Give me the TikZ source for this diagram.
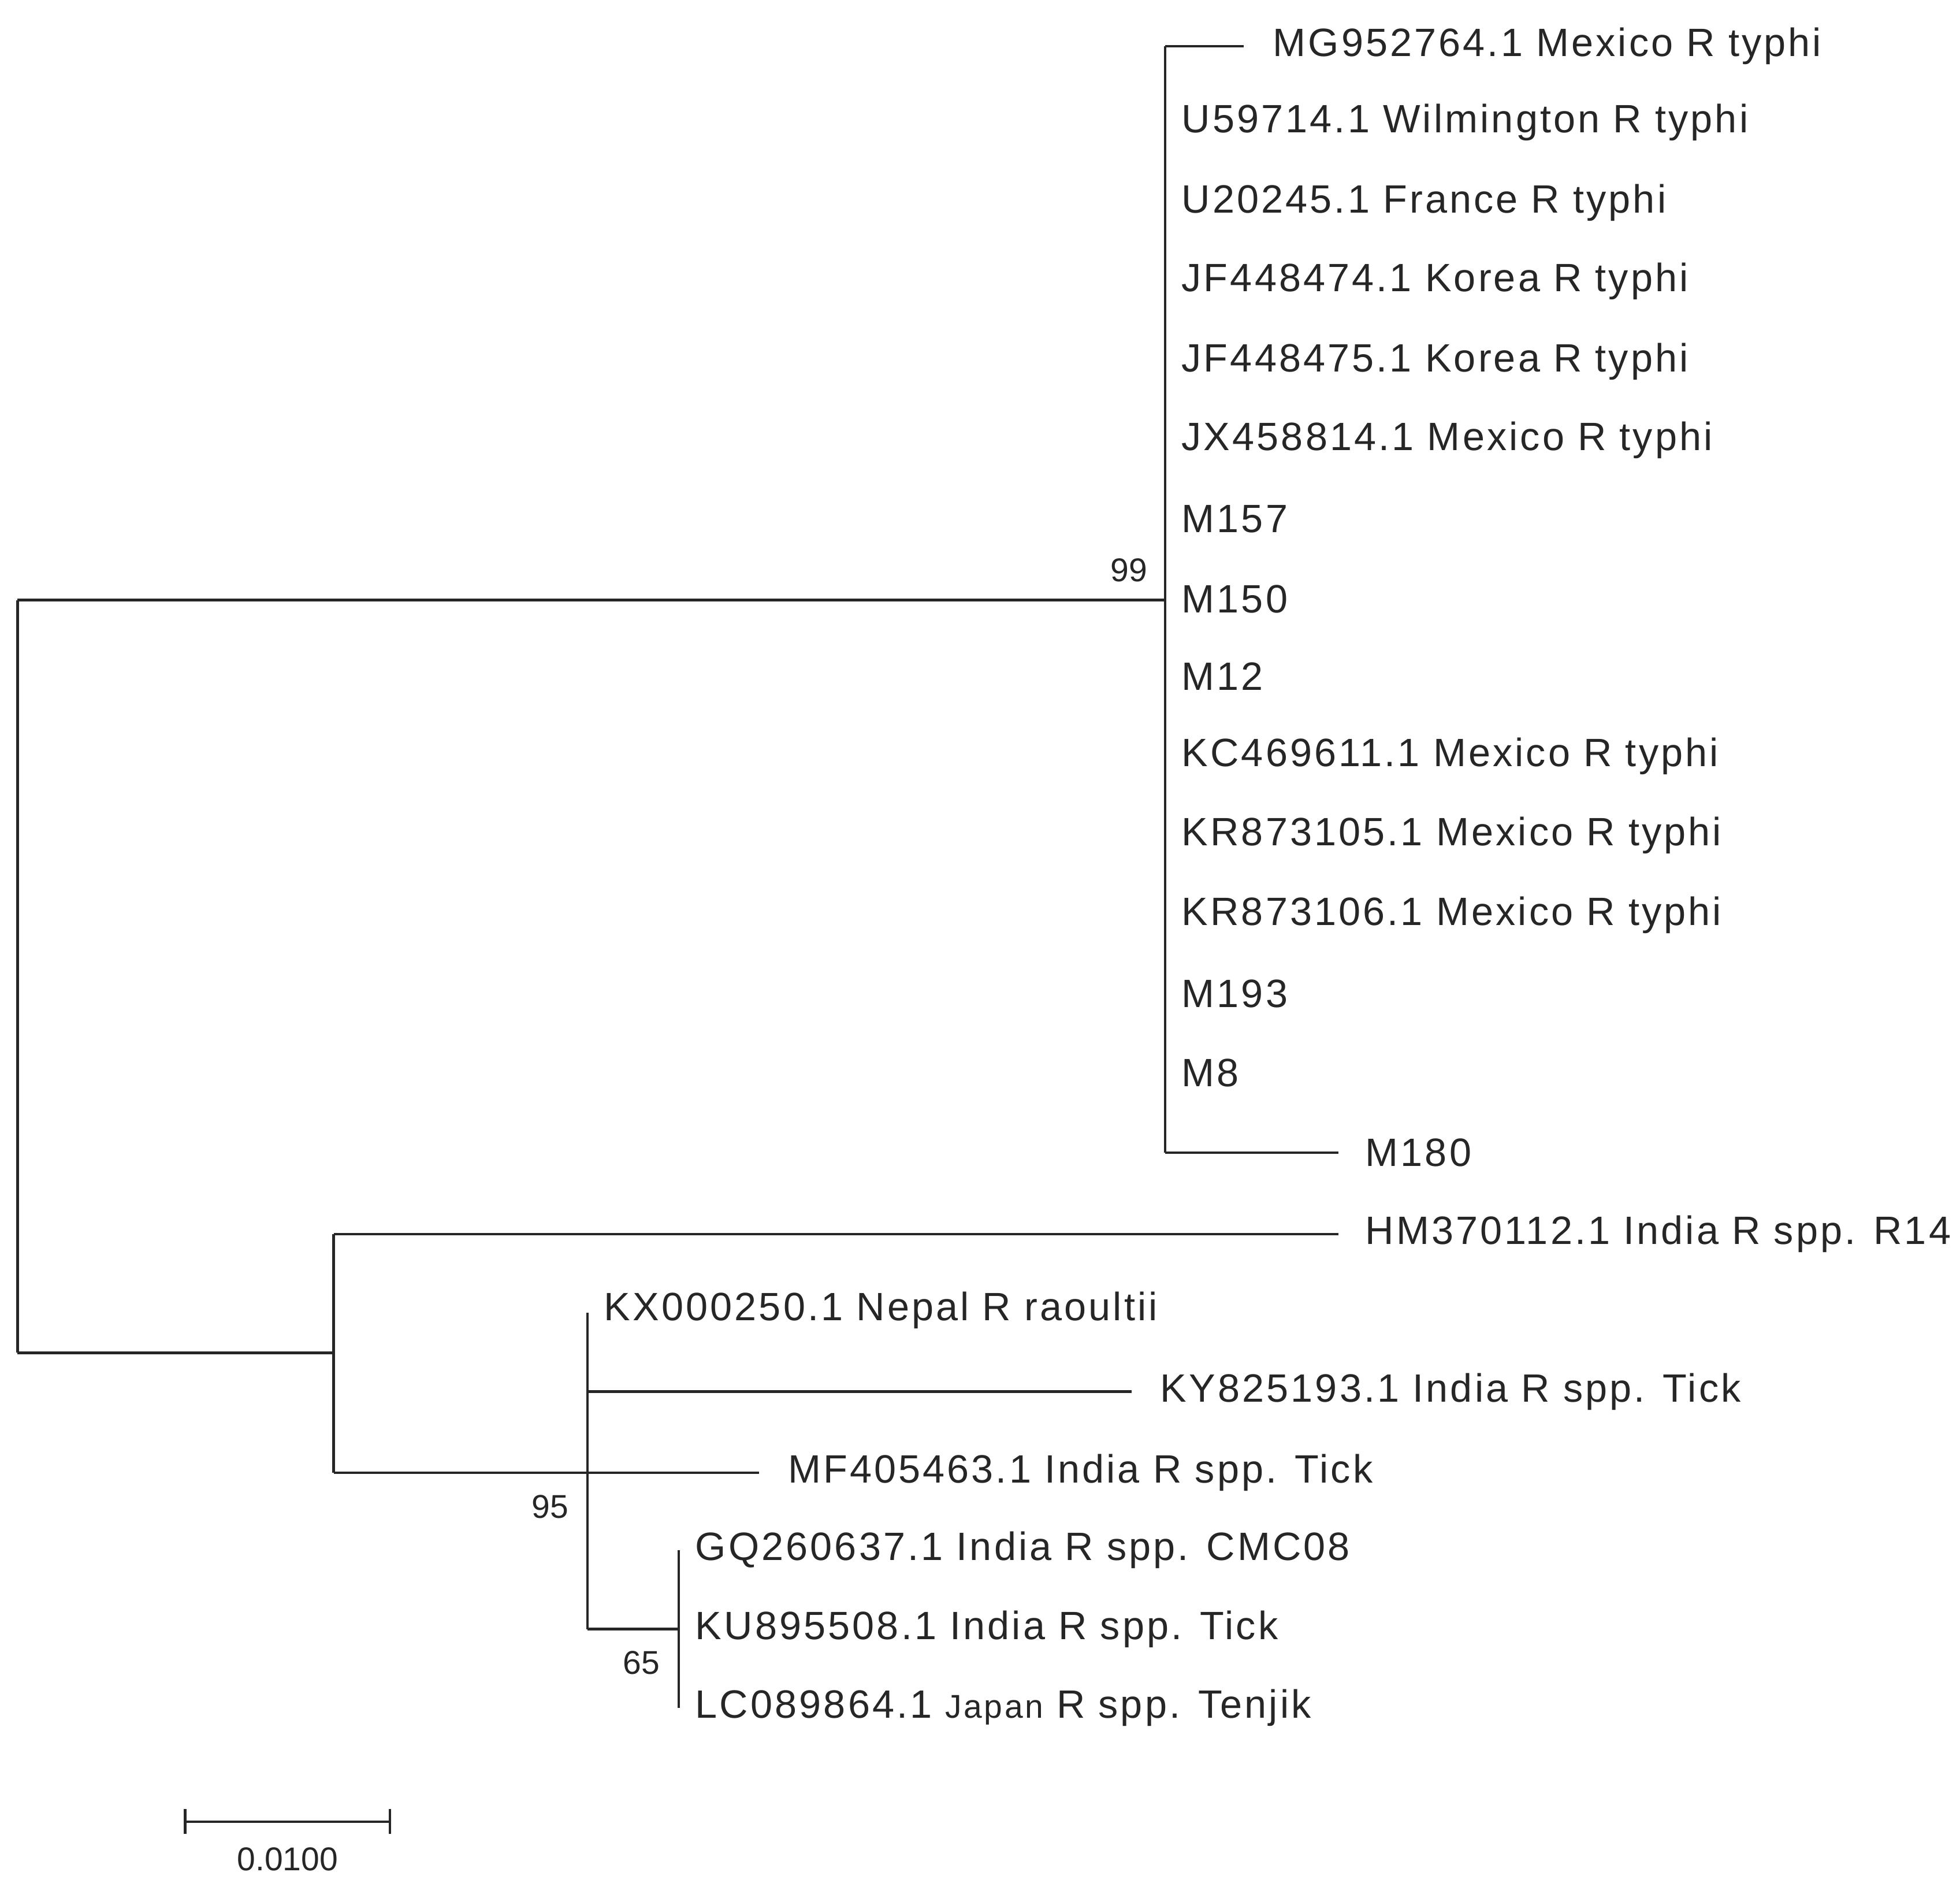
\documentclass[tikz,border=0pt]{standalone}
\usepackage{fontspec}
\setmainfont{Liberation Sans}
\newfontfamily\leaffont[LetterSpace=6]{Liberation Sans}
\begin{document}
\begin{tikzpicture}[x=0.02cm,y=-0.02cm,
  br/.style={line width=1.2pt,black!85},
  lf/.style={anchor=west,inner sep=0pt,font=\leaffont\fontsize{18}{21}\selectfont,text=black!85},
  bs/.style={inner sep=0pt,font=\fontsize{15}{18}\selectfont,text=black!85}]
\useasboundingbox (0,0) rectangle (1568,1518);
% coordinates
\coordinate (r1) at (14,480); \coordinate (r2) at (14,1082);
\coordinate (a) at (932,480); \coordinate (at) at (932,37); \coordinate (ab) at (932,922);
\coordinate (b) at (267,1082); \coordinate (bt) at (267,987); \coordinate (bb) at (267,1178);
\coordinate (c) at (470,1178); \coordinate (ct) at (470,1050); \coordinate (cb) at (470,1303);
\coordinate (d) at (543,1303); \coordinate (dt) at (543,1240); \coordinate (db) at (543,1366);
\coordinate (s1) at (148,1457); \coordinate (s2) at (312,1457);
% leaves
\node[lf] (l1) at (1018,37) {MG952764.1 Mexico R typhi};
\foreach \n/\y/\t in {l2/98/U59714.1 Wilmington R typhi,l3/162/U20245.1 France R typhi,
 l4/225/JF448474.1 Korea R typhi,l5/289/JF448475.1 Korea R typhi,l6/352/JX458814.1 Mexico R typhi,
 l7/415/M157,l8/479/M150,l9/541/M12,l10/605/KC469611.1 Mexico R typhi,l11/668/KR873105.1 Mexico R typhi,
 l12/732/KR873106.1 Mexico R typhi,l13/795/M193,l14/858/M8}
 \node[lf] (\n) at (945,\y) {\t};
\node[lf] (l15) at (1092,922) {M180};
\node[lf] (l16) at (1092,987) {HM370112.1 India R spp. R14};
\node[lf] (l17) at (483,1048) {KX000250.1 Nepal R raoultii};
\node[lf] (l18) at (928,1113) {KY825193.1 India R spp. Tick};
\node[lf] (l19) at (630,1178) {MF405463.1 India R spp. Tick};
\node[lf] (l20) at (556,1240) {GQ260637.1 India R spp. CMC08};
\node[lf] (l21) at (556,1303) {KU895508.1 India R spp. Tick};
\node[lf] (l22) at (556,1366) {LC089864.1 {\fontsize{15}{16}\selectfont Japan} R spp. Tenjik};
% branches
\draw[br] (r1) -- (r2);
\draw[br] (r1) -- (a); \draw[br] (at) -- (ab);
\draw[br] (at) -- ([xshift=-13]l1.west);
\draw[br] (ab) -- ([xshift=-12]l15.west);
\draw[br] (r2) -- (b); \draw[br] (bt) -- (bb);
\draw[br] (bt) -- ([xshift=-12]l16.west);
\draw[br] (bb) -- (c); \draw[br] (ct) -- (cb);
\draw[br] (c) -- ([xshift=-13]l19.west);
\draw[br] (470,1113) -- ([xshift=-13]l18.west);
\draw[br] (cb) -- (d); \draw[br] (dt) -- (db);
% support
\node[bs] (n99) at (903,456) {99};
\node[bs] (n95) at (440,1205) {95};
\node[bs] (n65) at (513,1330) {65};
% scale bar
\draw[br] (s1) -- (s2);
\draw[br] (148,1447) -- (148,1467);
\draw[br] (312,1447) -- (312,1467);
\node[bs] (sc) at (230,1487) {0.0100};
\end{tikzpicture}
\end{document}
